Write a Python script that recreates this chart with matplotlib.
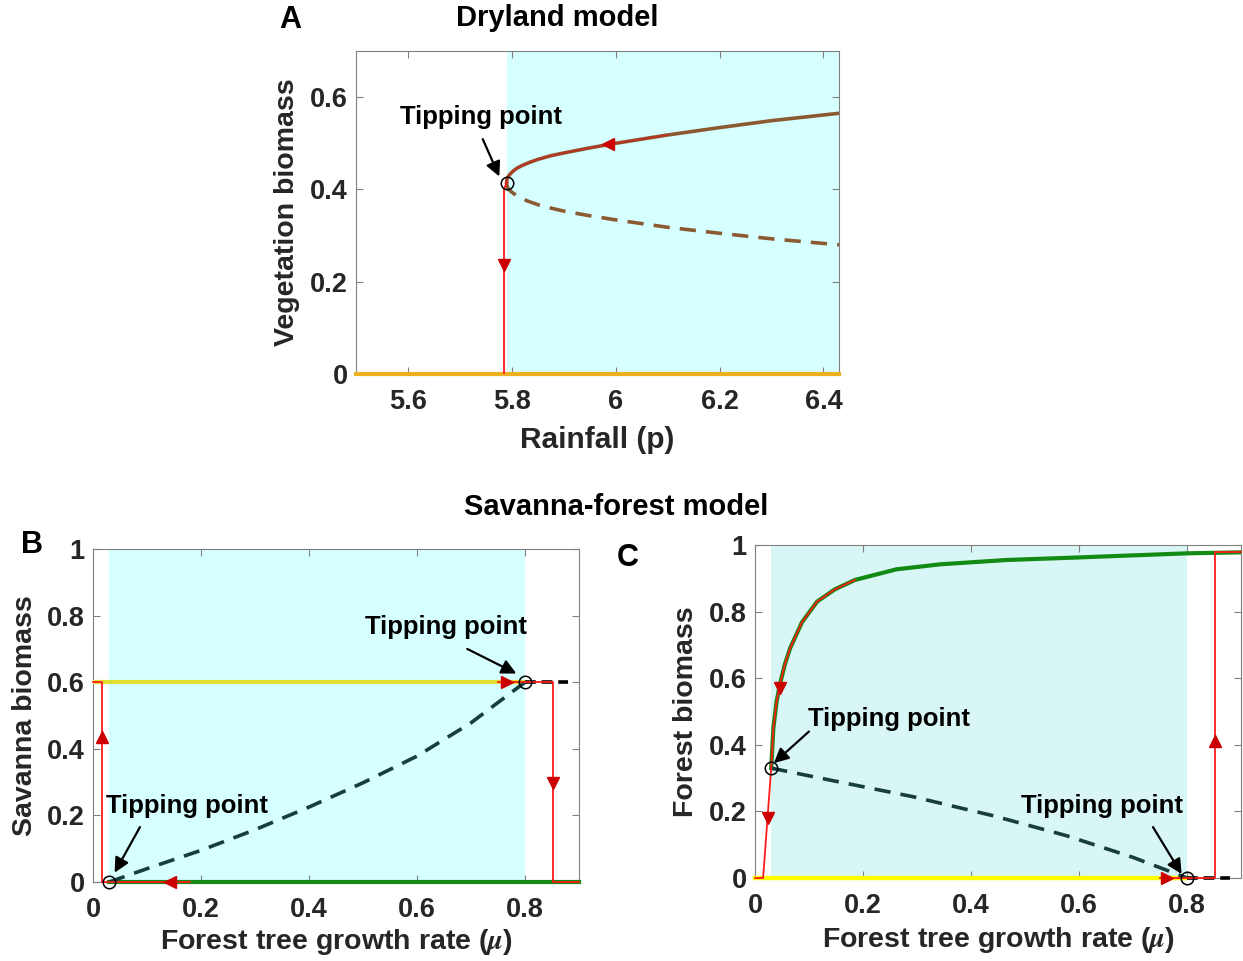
import matplotlib
matplotlib.use("Agg")
import matplotlib.pyplot as plt

plt.rcParams['font.family'] = ['Liberation Sans', 'DejaVu Sans']
plt.rcParams['font.weight'] = 'bold'
plt.rcParams['mathtext.fontset'] = 'stix'

# ---- panel A: dryland model ----
rain_upper = [5.79, 5.7905, 5.792, 5.795, 5.80, 5.805, 5.81, 5.82, 5.835, 5.85, 5.875,
              5.90, 5.95, 6.00, 6.05, 6.10, 6.20, 6.30, 6.43]
veg_upper = [0.415, 0.421, 0.426, 0.431, 0.437, 0.442, 0.446, 0.452, 0.459, 0.465, 0.473,
             0.479, 0.490, 0.500, 0.509, 0.518, 0.534, 0.549, 0.565]
rain_lower = [5.79, 5.7905, 5.792, 5.795, 5.80, 5.81, 5.83, 5.85, 5.87, 5.90, 5.95,
              6.00, 6.10, 6.20, 6.30, 6.43]
veg_lower = [0.415, 0.409, 0.404, 0.399, 0.394, 0.386, 0.375, 0.367, 0.361, 0.353, 0.343,
             0.334, 0.318, 0.305, 0.293, 0.280]
rain_zero = [5.5, 6.43]
rain_drop = 5.785
rain_tip, veg_tip = 5.79, 0.415
rain_red_end = 6.10

# ---- panel B: savanna biomass ----
mu_b_unstable = [0.03, 0.1, 0.2, 0.3, 0.4, 0.5, 0.6, 0.7, 0.8]
sav_unstable = [0.0, 0.04, 0.095, 0.157, 0.225, 0.298, 0.378, 0.478, 0.6]
sav_high = 0.6
mu_b_tips = [0.03, 0.8]
sav_tips = [0.0, 0.6]
mu_b_jump_up = 0.016
mu_b_jump_down = 0.851

# ---- panel C: forest biomass ----
mu_c_stable = [0.03, 0.034, 0.04, 0.046, 0.055, 0.065, 0.087, 0.115, 0.148, 0.185,
               0.262, 0.343, 0.466, 0.589, 0.8, 0.9]
forest_stable = [0.33, 0.45, 0.53, 0.58, 0.64, 0.69, 0.768, 0.83, 0.867, 0.895,
                 0.927, 0.942, 0.955, 0.962, 0.975, 0.978]
mu_c_unstable = [0.03, 0.139, 0.293, 0.441, 0.577, 0.70, 0.8]
forest_unstable = [0.33, 0.294, 0.244, 0.187, 0.127, 0.062, 0.0]
mu_c_tips = [0.03, 0.8]
forest_tips = [0.33, 0.0]
mu_c_jump_up = 0.852

bistable_b = (0.03, 0.8)
bistable_c = (0.03, 0.8)

mu_ticks = [0, 0.2, 0.4, 0.6, 0.8]
mu_ticklabels = ['0', '0.2', '0.4', '0.6', '0.8']
unit_ticks = [0, 0.2, 0.4, 0.6, 0.8, 1]
unit_ticklabels = ['0', '0.2', '0.4', '0.6', '0.8', '1']

RED = '#ff1a1a'
ARROW_RED = '#cc0000'
TXT = '#262626'
LBL = 20.5
TICK = 19.5
TIP = 18.5
DASH = (0, (4.5, 2.8))


def style_axes(ax):
    for s in ax.spines.values():
        s.set_color('#808080')
        s.set_linewidth(0.8)
    ax.tick_params(direction='in', length=5, width=0.8, color='#808080',
                   top=True, right=True, labelsize=TICK, labelcolor=TXT)
    ax.tick_params(axis='x', pad=11)
    ax.tick_params(axis='y', pad=6)
    for lab in ax.get_xticklabels() + ax.get_yticklabels():
        lab.set_fontweight('bold')


def tip_note(ax, text_xy, start, end):
    ax.text(*text_xy, 'Tipping point', fontsize=TIP, fontweight='bold',
            ha='center', va='center', color='black', zorder=8)
    ax.annotate('', xy=end, xytext=start,
                arrowprops=dict(arrowstyle='-|>', color='black', lw=1.6,
                                mutation_scale=22, shrinkA=0, shrinkB=0),
                zorder=8)


def tri(ax, x, y, kind):
    ax.plot([x], [y], marker=kind, color=ARROW_RED, ms=9, mec=ARROW_RED,
            zorder=7, clip_on=False)


fig = plt.figure(figsize=(12.43, 9.61), dpi=100)

# ================= A =================
axA = fig.add_axes([356 / 1243, 1 - 374 / 961, 483 / 1243, 323 / 961])
axA.axvspan(rain_tip, rain_zero[1], color='#d6ffff', lw=0, zorder=0)
axA.plot(rain_zero, [0, 0], color='#edb120', lw=3, zorder=3, clip_on=False)
axA.plot(rain_upper, veg_upper, color='#8c5a32', lw=2.6, zorder=3)
axA.plot(rain_lower, veg_lower, color='#8c5a32', lw=2.6, ls=DASH, zorder=3)
red_x = [x for x in rain_upper if x <= rain_red_end]
red_y = [y for x, y in zip(rain_upper, veg_upper) if x <= rain_red_end]
axA.plot(red_x, red_y, color='#c8281e', lw=1.4, alpha=0.8, zorder=4)
axA.plot([rain_drop, rain_drop, rain_tip], [0, 0.40, veg_tip], color=RED, lw=1.3, zorder=4)
tri(axA, 5.985, 0.499, '<')
tri(axA, rain_drop, 0.237, 'v')
axA.plot([rain_tip], [veg_tip], 'o', mfc='none', mec='black', ms=9, mew=1.1, zorder=6)
tip_note(axA, (5.74, 0.556), (5.744, 0.509), (5.776, 0.428))
axA.set_xlim(5.5, 6.43)
axA.set_ylim(0, 0.7)
axA.set_xticks([5.6, 5.8, 6.0, 6.2, 6.4])
axA.set_xticklabels(['5.6', '5.8', '6', '6.2', '6.4'])
axA.set_yticks([0, 0.2, 0.4, 0.6])
axA.set_yticklabels(['0', '0.2', '0.4', '0.6'])
style_axes(axA)
axA.set_xlabel('Rainfall (p)', fontsize=21.5, fontweight='bold', color=TXT, va='center')
axA.xaxis.set_label_coords(0.5, -0.205)
axA.set_ylabel('Vegetation biomass', fontsize=LBL, fontweight='bold', color=TXT, va='center')
axA.yaxis.set_label_coords(-0.143, 0.5)

# ================= B =================
axB = fig.add_axes([93 / 1243, 1 - 882 / 961, 486 / 1243, 333 / 961])
axB.axvspan(*bistable_b, color='#d6ffff', lw=0, zorder=0)
axB.plot([0, 0.8], [sav_high, sav_high], color='#e0e030', lw=3, zorder=3)
axB.plot([0.03, 0.9], [0, 0], color='#138a13', lw=3, zorder=3, clip_on=False)
axB.plot([0.8, 0.88], [sav_high, sav_high], color='black', lw=2.6, ls=(0, (3, 1.6)), zorder=3)
axB.plot(mu_b_unstable, sav_unstable, color='#173d3d', lw=2.6, ls=DASH, zorder=3)
axB.plot([0.18, mu_b_jump_up, mu_b_jump_up, 0], [0, 0, sav_high, sav_high],
         color=RED, lw=1.3, zorder=4, clip_on=False)
axB.plot([0.75, mu_b_jump_down, mu_b_jump_down, 0.9], [sav_high, sav_high, 0, 0],
         color=RED, lw=1.3, zorder=4, clip_on=False)
tri(axB, 0.143, 0, '<')
tri(axB, mu_b_jump_up, 0.435, '^')
tri(axB, 0.766, sav_high, '>')
tri(axB, mu_b_jump_down, 0.297, 'v')
axB.plot(mu_b_tips, sav_tips, 'o', mfc='none', mec='black', ms=9, mew=1.1, zorder=6, clip_on=False)
tip_note(axB, (0.174, 0.228), (0.087, 0.165), (0.04, 0.028))
tip_note(axB, (0.654, 0.765), (0.693, 0.70), (0.784, 0.626))
axB.set_xlim(0, 0.9)
axB.set_ylim(0, 1)
axB.set_xticks(mu_ticks)
axB.set_xticklabels(mu_ticklabels)
axB.set_yticks(unit_ticks)
axB.set_yticklabels(unit_ticklabels)
style_axes(axB)
axB.set_xlabel(r'Forest tree growth rate ($\mu$)', fontsize=LBL, fontweight='bold', color=TXT, va='center')
axB.xaxis.set_label_coords(0.5, -0.18)
axB.set_ylabel('Savanna biomass', fontsize=LBL, fontweight='bold', color=TXT, va='center')
axB.yaxis.set_label_coords(-0.14, 0.5)

# ================= C =================
axC = fig.add_axes([755 / 1243, 1 - 878 / 961, 486 / 1243, 333 / 961])
axC.axvspan(*bistable_c, color='#d8f6f6', lw=0, zorder=0)
axC.plot([0, 0.8], [0, 0], color='#ffff00', lw=3.2, zorder=3, clip_on=False)
axC.plot(mu_c_stable, forest_stable, color='#138a13', lw=3, zorder=3)
axC.plot([0.8, 0.88], [0, 0], color='black', lw=2.6, ls=(0, (3, 1.6)), zorder=3, clip_on=False)
axC.plot(mu_c_unstable, forest_unstable, color='#173d3d', lw=2.6, ls=DASH, zorder=3)
red_mu = [m for m in mu_c_stable if m <= 0.185][::-1]
red_f = [f for m, f in zip(mu_c_stable, forest_stable) if m <= 0.185][::-1]
axC.plot(red_mu + [0.015, 0], red_f + [0, 0], color=RED, lw=1.3, zorder=4, clip_on=False)
axC.plot([0.75, mu_c_jump_up, mu_c_jump_up, 0.9], [0, 0, 0.978, 0.978],
         color=RED, lw=1.3, zorder=4, clip_on=False)
tri(axC, 0.046, 0.57, 'v')
tri(axC, 0.024, 0.18, 'v')
tri(axC, 0.763, 0, '>')
tri(axC, mu_c_jump_up, 0.41, '^')
axC.plot(mu_c_tips, forest_tips, 'o', mfc='none', mec='black', ms=9, mew=1.1, zorder=6, clip_on=False)
tip_note(axC, (0.248, 0.478), (0.10, 0.44), (0.035, 0.345))
tip_note(axC, (0.643, 0.216), (0.737, 0.153), (0.79, 0.012))
axC.set_xlim(0, 0.9)
axC.set_ylim(0, 1)
axC.set_xticks(mu_ticks)
axC.set_xticklabels(mu_ticklabels)
axC.set_yticks(unit_ticks)
axC.set_yticklabels(unit_ticklabels)
style_axes(axC)
axC.set_xlabel(r'Forest tree growth rate ($\mu$)', fontsize=LBL, fontweight='bold', color=TXT, va='center')
axC.xaxis.set_label_coords(0.5, -0.186)
axC.set_ylabel('Forest biomass', fontsize=LBL, fontweight='bold', color=TXT, va='center')
axC.yaxis.set_label_coords(-0.142, 0.5)

# ---- titles and panel letters ----
fig.text(290 / 1243, 1 - 20 / 961, 'A', fontsize=22, fontweight='bold', ha='center', va='center')
fig.text(557 / 1243, 1 - 18 / 961, 'Dryland model', fontsize=21, fontweight='bold', ha='center', va='center')
fig.text(616 / 1243, 1 - 507 / 961, 'Savanna-forest model', fontsize=21, fontweight='bold', ha='center', va='center')
fig.text(32 / 1243, 1 - 545 / 961, 'B', fontsize=22, fontweight='bold', ha='center', va='center')
fig.text(628 / 1243, 1 - 558 / 961, 'C', fontsize=22, fontweight='bold', ha='center', va='center')

fig.savefig('out.png', dpi=100)
